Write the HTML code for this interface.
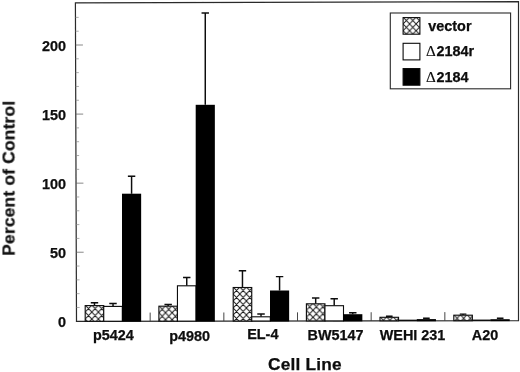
<!DOCTYPE html>
<html><head><meta charset="utf-8"><title>Percent of Control by Cell Line</title>
<style>
html,body{margin:0;padding:0;background:#fff;}
body{width:520px;height:372px;overflow:hidden;}
svg{display:block;font-family:"Liberation Sans",sans-serif;font-weight:bold;fill:#0c0c0c;}
text{stroke:#0c0c0c;stroke-width:0.25px;}
tspan.d{stroke-width:0.15px;}
</style></head><body>
<svg width="520" height="372" viewBox="0 0 520 372">
<defs>
<pattern id="h0" x="85.2" y="305.1" width="6.6" height="7" patternUnits="userSpaceOnUse"><rect width="6.6" height="7" fill="#fff"/><path d="M-1.65,-1.75 L8.25,8.75 M-1.65,8.75 L8.25,-1.75 M-1.65,5.25 L1.65,8.75 M4.95,-1.75 L8.25,1.75 M-1.65,1.75 L1.65,-1.75 M4.95,8.75 L8.25,5.25" stroke="#1a1a1a" stroke-width="1" fill="none"/></pattern>
<pattern id="h1" x="158.9" y="305.7" width="6.6" height="7" patternUnits="userSpaceOnUse"><rect width="6.6" height="7" fill="#fff"/><path d="M-1.65,-1.75 L8.25,8.75 M-1.65,8.75 L8.25,-1.75 M-1.65,5.25 L1.65,8.75 M4.95,-1.75 L8.25,1.75 M-1.65,1.75 L1.65,-1.75 M4.95,8.75 L8.25,5.25" stroke="#1a1a1a" stroke-width="1" fill="none"/></pattern>
<pattern id="h2" x="233.2" y="287.0" width="6.6" height="7" patternUnits="userSpaceOnUse"><rect width="6.6" height="7" fill="#fff"/><path d="M-1.65,-1.75 L8.25,8.75 M-1.65,8.75 L8.25,-1.75 M-1.65,5.25 L1.65,8.75 M4.95,-1.75 L8.25,1.75 M-1.65,1.75 L1.65,-1.75 M4.95,8.75 L8.25,5.25" stroke="#1a1a1a" stroke-width="1" fill="none"/></pattern>
<pattern id="h3" x="306.4" y="303.3" width="6.6" height="7" patternUnits="userSpaceOnUse"><rect width="6.6" height="7" fill="#fff"/><path d="M-1.65,-1.75 L8.25,8.75 M-1.65,8.75 L8.25,-1.75 M-1.65,5.25 L1.65,8.75 M4.95,-1.75 L8.25,1.75 M-1.65,1.75 L1.65,-1.75 M4.95,8.75 L8.25,5.25" stroke="#1a1a1a" stroke-width="1" fill="none"/></pattern>
<pattern id="h4" x="380.0" y="316.8" width="6.6" height="7" patternUnits="userSpaceOnUse"><rect width="6.6" height="7" fill="#fff"/><path d="M-1.65,-1.75 L8.25,8.75 M-1.65,8.75 L8.25,-1.75 M-1.65,5.25 L1.65,8.75 M4.95,-1.75 L8.25,1.75 M-1.65,1.75 L1.65,-1.75 M4.95,8.75 L8.25,5.25" stroke="#1a1a1a" stroke-width="1" fill="none"/></pattern>
<pattern id="h5" x="453.8" y="314.7" width="6.6" height="7" patternUnits="userSpaceOnUse"><rect width="6.6" height="7" fill="#fff"/><path d="M-1.65,-1.75 L8.25,8.75 M-1.65,8.75 L8.25,-1.75 M-1.65,5.25 L1.65,8.75 M4.95,-1.75 L8.25,1.75 M-1.65,1.75 L1.65,-1.75 M4.95,8.75 L8.25,5.25" stroke="#1a1a1a" stroke-width="1" fill="none"/></pattern>
<pattern id="hl" x="403.1" y="17.2" width="6.5" height="6.75" patternUnits="userSpaceOnUse">
<rect width="6.5" height="6.75" fill="#fff"/>
<path d="M-1.625,-1.6875 L8.125,8.4375 M-1.625,8.4375 L8.125,-1.6875" stroke="#1a1a1a" stroke-width="0.95" fill="none"/>
</pattern>
<filter id="soft" x="0" y="0" width="520" height="372" filterUnits="userSpaceOnUse"><feGaussianBlur stdDeviation="0.4"/></filter>
</defs>
<rect width="520" height="372" fill="#fff"/>
<g filter="url(#soft)">

<polygon points="75.4,2.8 518.5,1.6 518.5,320.6 76.5,321.3" fill="none" stroke="#2a2a2a" stroke-width="1.2"/>
<line x1="76.45" x2="79.65" y1="307.49" y2="307.49" stroke="#8a8a8a" stroke-width="0.7"/>
<line x1="76.40" x2="79.60" y1="293.67" y2="293.67" stroke="#8a8a8a" stroke-width="0.7"/>
<line x1="76.36" x2="79.56" y1="279.86" y2="279.86" stroke="#8a8a8a" stroke-width="0.7"/>
<line x1="76.31" x2="79.51" y1="266.04" y2="266.04" stroke="#8a8a8a" stroke-width="0.7"/>
<line x1="76.26" x2="83.66" y1="252.23" y2="252.23" stroke="#606060" stroke-width="0.75"/>
<line x1="76.21" x2="79.41" y1="238.41" y2="238.41" stroke="#8a8a8a" stroke-width="0.7"/>
<line x1="76.17" x2="79.37" y1="224.60" y2="224.60" stroke="#8a8a8a" stroke-width="0.7"/>
<line x1="76.12" x2="79.32" y1="210.78" y2="210.78" stroke="#8a8a8a" stroke-width="0.7"/>
<line x1="76.07" x2="79.27" y1="196.97" y2="196.97" stroke="#8a8a8a" stroke-width="0.7"/>
<line x1="76.02" x2="83.42" y1="183.15" y2="183.15" stroke="#606060" stroke-width="0.75"/>
<line x1="75.98" x2="79.18" y1="169.34" y2="169.34" stroke="#8a8a8a" stroke-width="0.7"/>
<line x1="75.93" x2="79.13" y1="155.52" y2="155.52" stroke="#8a8a8a" stroke-width="0.7"/>
<line x1="75.88" x2="79.08" y1="141.71" y2="141.71" stroke="#8a8a8a" stroke-width="0.7"/>
<line x1="75.83" x2="79.03" y1="127.89" y2="127.89" stroke="#8a8a8a" stroke-width="0.7"/>
<line x1="75.78" x2="83.18" y1="114.08" y2="114.08" stroke="#606060" stroke-width="0.75"/>
<line x1="75.74" x2="78.94" y1="100.26" y2="100.26" stroke="#8a8a8a" stroke-width="0.7"/>
<line x1="75.69" x2="78.89" y1="86.45" y2="86.45" stroke="#8a8a8a" stroke-width="0.7"/>
<line x1="75.64" x2="78.84" y1="72.63" y2="72.63" stroke="#8a8a8a" stroke-width="0.7"/>
<line x1="75.59" x2="78.79" y1="58.81" y2="58.81" stroke="#8a8a8a" stroke-width="0.7"/>
<line x1="75.55" x2="82.95" y1="45.00" y2="45.00" stroke="#606060" stroke-width="0.75"/>
<line x1="75.50" x2="78.70" y1="31.19" y2="31.19" stroke="#8a8a8a" stroke-width="0.7"/>
<line x1="75.45" x2="78.65" y1="17.37" y2="17.37" stroke="#8a8a8a" stroke-width="0.7"/>
<text x="66.1" y="327.20" font-size="14.4" text-anchor="end">0</text>
<text x="66.1" y="258.12" font-size="14.4" text-anchor="end">50</text>
<text x="66.1" y="189.05" font-size="14.4" text-anchor="end">100</text>
<text x="66.1" y="119.98" font-size="14.4" text-anchor="end">150</text>
<text x="66.1" y="50.90" font-size="14.4" text-anchor="end">200</text>
<line x1="150.17" x2="150.17" y1="321.18" y2="312.58" stroke="#333" stroke-width="0.9"/>
<line x1="223.83" x2="223.83" y1="321.07" y2="312.47" stroke="#333" stroke-width="0.9"/>
<line x1="297.50" x2="297.50" y1="320.95" y2="312.35" stroke="#333" stroke-width="0.9"/>
<line x1="371.17" x2="371.17" y1="320.83" y2="312.23" stroke="#333" stroke-width="0.9"/>
<line x1="444.83" x2="444.83" y1="320.72" y2="312.12" stroke="#333" stroke-width="0.9"/>
<path d="M94.48,305.6 V302.7 M90.78,302.7 H98.18" stroke="#0a0a0a" stroke-width="1.45" fill="none"/>
<rect x="85.20" y="305.6" width="18.55" height="15.67" fill="url(#h0)" stroke="#0a0a0a" stroke-width="1.1"/>
<path d="M113.03,306.4 V303.4 M109.33,303.4 H116.73" stroke="#0a0a0a" stroke-width="1.45" fill="none"/>
<rect x="103.75" y="306.4" width="18.55" height="14.84" fill="#fff" stroke="#0a0a0a" stroke-width="1.1"/>
<path d="M131.58,193.7 V176.2 M127.88,176.2 H135.28" stroke="#0a0a0a" stroke-width="1.45" fill="none"/>
<rect x="122.00" y="193.7" width="19.150000000000002" height="128.01" fill="#050505"/>
<text x="113.4" y="339.6" font-size="14.4" text-anchor="middle">p5424</text>
<path d="M168.18,306.2 V304.4 M164.48,304.4 H171.88" stroke="#0a0a0a" stroke-width="1.45" fill="none"/>
<rect x="158.90" y="306.2" width="18.55" height="14.95" fill="url(#h1)" stroke="#0a0a0a" stroke-width="1.1"/>
<path d="M186.73,285.8 V277.4 M183.03,277.4 H190.43" stroke="#0a0a0a" stroke-width="1.45" fill="none"/>
<rect x="177.45" y="285.8" width="18.55" height="35.33" fill="#fff" stroke="#0a0a0a" stroke-width="1.1"/>
<path d="M205.28,104.8 V12.9 M201.58,12.9 H208.97" stroke="#0a0a0a" stroke-width="1.45" fill="none"/>
<rect x="195.70" y="104.8" width="19.150000000000002" height="216.80" fill="#050505"/>
<text x="189.6" y="340.6" font-size="14.4" text-anchor="middle">p4980</text>
<path d="M242.47,287.5 V270.8 M238.78,270.8 H246.17" stroke="#0a0a0a" stroke-width="1.45" fill="none"/>
<rect x="233.20" y="287.5" width="18.55" height="33.54" fill="url(#h2)" stroke="#0a0a0a" stroke-width="1.1"/>
<path d="M261.02,316.8 V314.0 M257.32,314.0 H264.72" stroke="#0a0a0a" stroke-width="1.45" fill="none"/>
<rect x="251.75" y="316.8" width="18.55" height="4.21" fill="#fff" stroke="#0a0a0a" stroke-width="1.1"/>
<path d="M279.57,290.5 V276.6 M275.88,276.6 H283.27" stroke="#0a0a0a" stroke-width="1.45" fill="none"/>
<rect x="270.00" y="290.5" width="19.150000000000002" height="30.98" fill="#050505"/>
<text x="262.8" y="338.8" font-size="14.4" text-anchor="middle">EL-4</text>
<path d="M315.67,303.8 V298.0 M311.97,298.0 H319.37" stroke="#0a0a0a" stroke-width="1.45" fill="none"/>
<rect x="306.40" y="303.8" width="18.55" height="17.12" fill="url(#h3)" stroke="#0a0a0a" stroke-width="1.1"/>
<path d="M334.22,305.7 V298.8 M330.52,298.8 H337.92" stroke="#0a0a0a" stroke-width="1.45" fill="none"/>
<rect x="324.95" y="305.7" width="18.55" height="15.19" fill="#fff" stroke="#0a0a0a" stroke-width="1.1"/>
<path d="M352.77,314.2 V312.7 M349.07,312.7 H356.47" stroke="#0a0a0a" stroke-width="1.45" fill="none"/>
<rect x="343.20" y="314.2" width="19.150000000000002" height="7.16" fill="#050505"/>
<text x="335.5" y="340.1" font-size="14.4" text-anchor="middle">BW5147</text>
<path d="M389.27,317.3 V316.2 M385.97,316.2 H392.57" stroke="#0a0a0a" stroke-width="1.45" fill="none"/>
<rect x="380.00" y="317.3" width="18.55" height="3.50" fill="url(#h4)" stroke="#0a0a0a" stroke-width="1.1"/>
<rect x="398.55" y="319.68" width="18.55" height="1.4" fill="#111"/>
<path d="M426.38,319.1 V318.3 M423.07,318.3 H429.68" stroke="#0a0a0a" stroke-width="1.45" fill="none"/>
<rect x="416.80" y="319.1" width="19.150000000000002" height="2.15" fill="#050505"/>
<text x="412.5" y="340.1" font-size="14.4" text-anchor="middle">WEHI 231</text>
<path d="M463.07,315.2 V314.1 M459.77,314.1 H466.38" stroke="#0a0a0a" stroke-width="1.45" fill="none"/>
<rect x="453.80" y="315.2" width="18.55" height="5.49" fill="url(#h5)" stroke="#0a0a0a" stroke-width="1.1"/>
<rect x="472.35" y="319.56" width="18.55" height="1.4" fill="#111"/>
<path d="M500.18,319.2 V318.3 M496.88,318.3 H503.48" stroke="#0a0a0a" stroke-width="1.45" fill="none"/>
<rect x="490.60" y="319.2" width="19.150000000000002" height="1.93" fill="#050505"/>
<text x="485.0" y="340.1" font-size="14.4" text-anchor="middle">A20</text>
<rect x="390.3" y="13.0" width="120.3" height="75.8" fill="#fff" stroke="#2a2a2a" stroke-width="1.1"/>
<rect x="403.1" y="17.6" width="16.8" height="16.6" fill="url(#hl)" stroke="#0a0a0a" stroke-width="1.1"/>
<text x="428.3" y="30.8" font-size="14.4">vector</text>
<rect x="403.1" y="43.3" width="16.8" height="16.6" fill="#fff" stroke="#0a0a0a" stroke-width="1.1"/>
<text x="426.0" y="56.4" font-size="14.4"><tspan font-family="'Liberation Serif',serif" font-weight="normal" font-size="15.2" class="d">Δ</tspan><tspan dx="0.6">2184r</tspan></text>
<rect x="403.1" y="68.6" width="16.8" height="16.6" fill="#000" stroke="#0a0a0a" stroke-width="1.1"/>
<text x="426.0" y="82.4" font-size="14.4"><tspan font-family="'Liberation Serif',serif" font-weight="normal" font-size="15.2" class="d">Δ</tspan><tspan dx="0.6">2184</tspan></text>
<text x="268.1" y="369.6" font-size="17.3" textLength="73.6">Cell Line</text>
<text transform="translate(14.5 255.8) rotate(-90)" font-size="17.4" textLength="155">Percent of Control</text>
</g></svg></body></html>
